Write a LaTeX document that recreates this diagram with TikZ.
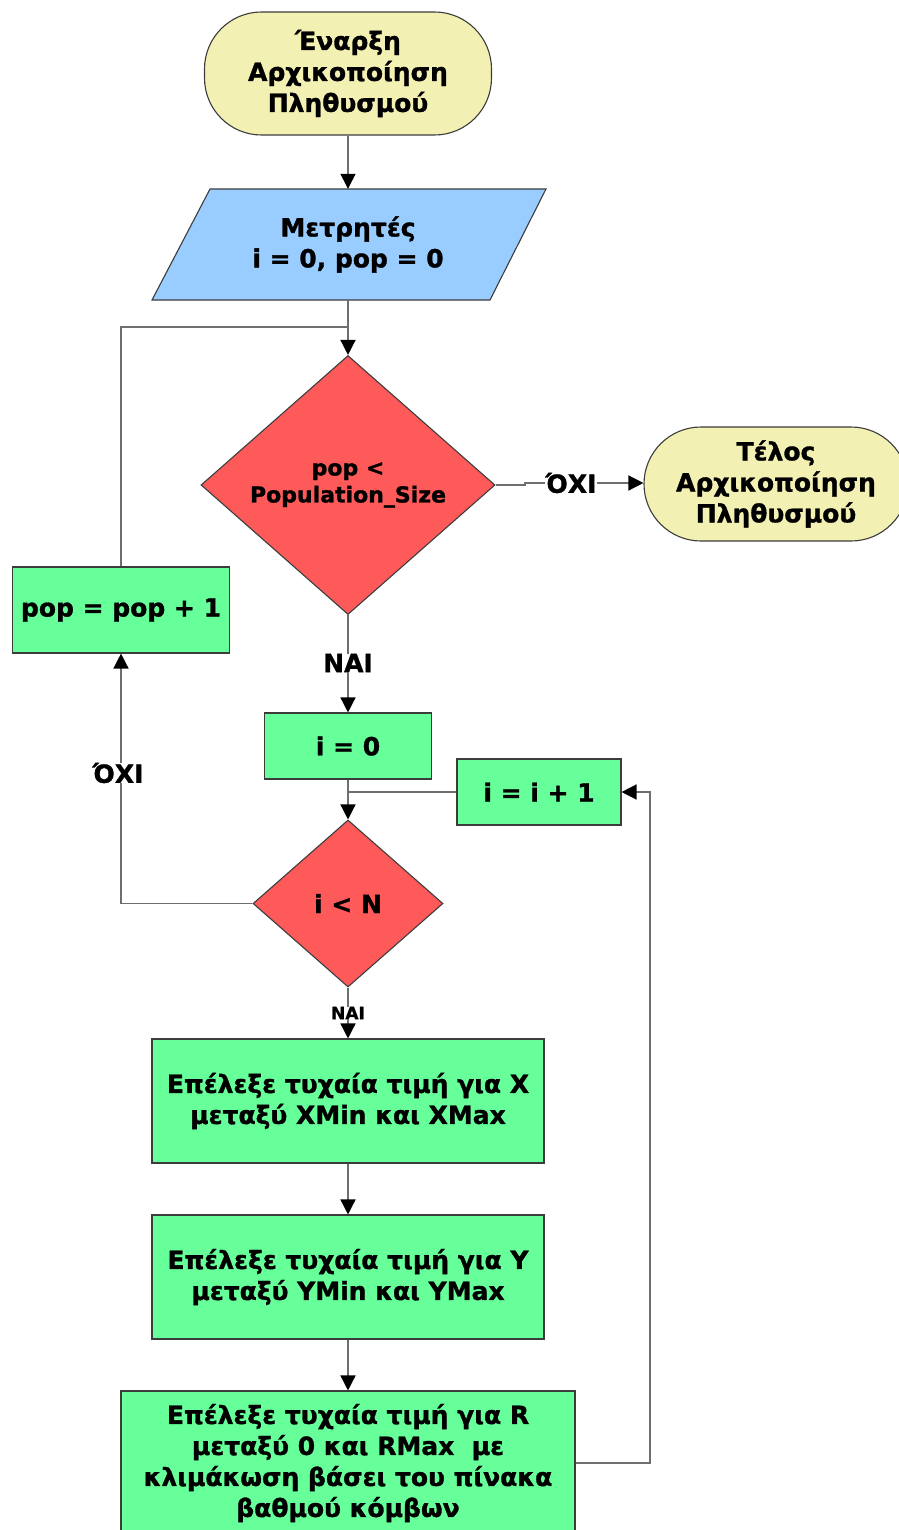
\documentclass[tikz,border=0pt]{standalone}
\usepackage{fontspec}
\setmainfont{DejaVu Sans}[BoldFeatures={FakeBold=1.2}]
\usetikzlibrary{shapes.geometric,arrows.meta}

\definecolor{termfill}{RGB}{243,240,180}
\definecolor{iofill}{RGB}{153,204,255}
\definecolor{decfill}{RGB}{255,90,90}
\definecolor{procfill}{RGB}{102,255,153}
\definecolor{edge}{RGB}{60,60,60}
\definecolor{wire}{RGB}{110,110,110}

\tikzset{
  txt/.style={font=\fontsize{25}{31}\selectfont\bfseries, align=center, inner sep=0pt},
  terminal/.style={txt, draw=edge, line width=1.1pt, fill=termfill, rounded corners=57pt},
  procbox/.style={txt, draw=edge, line width=1.1pt, fill=procfill},
  decision/.style={txt, diamond, draw=edge, line width=1.1pt, fill=decfill, aspect=1},
  conn/.style={draw=wire, line width=1.4pt},
  arr/.style={conn, -{Triangle[width=15pt,length=15pt,color=black,fill=black]}},
  lbl/.style={font=\fontsize{25}{30}\selectfont\bfseries, inner sep=0pt},
}

\begin{document}
\begin{tikzpicture}[x=1pt,y=-1pt]
\useasboundingbox (0,0) rectangle (898,1530);

% terminals
\node[terminal, minimum width=287, minimum height=123] (start) at (348,73.5)
  {Έναρξη\\Αρχικοποίηση\\Πληθυσμού};
\node[terminal, minimum width=264, minimum height=114] (finish) at (776,484)
  {Τέλος\\Αρχικοποίηση\\Πληθυσμού};

% counters (parallelogram)
\fill[iofill] (210,189) -- (546,189) -- (490,300) -- (152,300) -- cycle;
\draw[edge, line width=1.1pt] (210,189) -- (546,189) -- (490,300) -- (152,300) -- cycle;
\node[txt, minimum width=338, minimum height=111] (para) at (348,244.5)
  {Μετρητές\\i = 0, pop = 0};

% outer decision
\node[decision, minimum width=294, minimum height=259,
      font=\fontsize{22}{27}\selectfont\bfseries] (d1) at (348,485)
  {pop <\\Population\_Size};

% process boxes
\node[procbox, minimum width=217, minimum height=86] (pop) at (121,610) {pop = pop + 1};
\node[procbox, minimum width=167, minimum height=66] (i0) at (348,746) {i = 0};
\node[procbox, minimum width=164, minimum height=66] (inc) at (539,792) {i = i + 1};

% inner decision
\node[decision, minimum width=190, minimum height=167] (d2) at (348,903.5) {i < N};

\node[procbox, minimum width=392, minimum height=124] (bx) at (348,1101)
  {Επέλεξε τυχαία τιμή για X\\μεταξύ XMin και XMax};
\node[procbox, minimum width=392, minimum height=124] (by) at (348,1277)
  {Επέλεξε τυχαία τιμή για Y\\μεταξύ YMin και YMax};
\node[procbox, minimum width=454, minimum height=144] (br) at (348,1463)
  {Επέλεξε τυχαία τιμή για R\\μεταξύ 0 και RMax\ \ με\\κλιμάκωση βάσει του πίνακα\\βαθμού κόμβων};

% labels on connectors
\node[lbl] (no1) at (571,483) {ΌΧΙ};
\node[lbl] (yes1) at (348,663) {ΝΑΙ};
\node[lbl] (no2) at (118,773) {ΌΧΙ};
\node[lbl, font=\fontsize{17}{20}\selectfont\bfseries] (yes2) at (348,1013) {ΝΑΙ};

% junction points
\coordinate (j1) at (348,327);
\coordinate (j3) at (525,485);
\coordinate (j4) at (650,1463);

% connectors
\draw[arr] (start.south) -- (para.north);
\draw[arr] (para.south) -- (d1.north);
\draw[conn] (pop.north) |- (j1);
\draw[conn] (d1.east) -- (j3) |- (no1.west);
\draw[arr] (no1.east) -- (finish.west |- no1.east);
\draw[conn] (d1.south) -- (yes1.north);
\draw[arr] (yes1.south) -- (i0.north);
\draw[arr] (i0.south) -- (d2.north);
\draw[conn] (inc.west) -- (i0.south |- inc.west);
\draw[conn] (d2.west) -| (pop.south |- no2.south);
\draw[arr] (pop.south |- no2.north) -- (pop.south);
\draw[conn] (d2.south) -- (yes2.north);
\draw[arr] (yes2.south) -- (bx.north);
\draw[arr] (bx.south) -- (by.north);
\draw[arr] (by.south) -- (br.north);
\draw[arr] (br.east) -- (j4) |- (inc.east);
\end{tikzpicture}
\end{document}
